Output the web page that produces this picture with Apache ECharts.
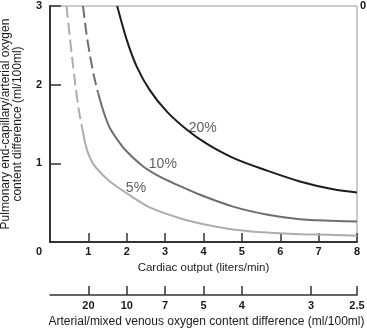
<!DOCTYPE html>
<html><head><meta charset="utf-8">
<script src="https://cdn.jsdelivr.net/npm/echarts@6/dist/echarts.min.js"></script>
<style>html,body{margin:0;padding:0;background:#fff}#c{width:367px;height:330px}</style>
</head><body><div id="c"></div>
<script>
// Secondary axis: arterial/mixed venous O2 content difference, placed at cardiac output positions
const avdLabels = ['20', '10', '7', '5', '4', '3', '2.5'];
const avdPositions = [1, 2, 3, 4, 5, 6.8, 8];

// 20% shunt curve
const s20Q = [1.75, 2.0, 2.26, 2.6, 3.04, 3.56, 4.08, 4.77, 5.64, 6.51, 7.38, 8.0];
const s20D = [3.0, 2.57, 2.23, 1.93, 1.66, 1.43, 1.25, 1.07, 0.91, 0.77, 0.67, 0.63];

// 10% shunt curve (dashed part, then solid part)
const s10DashQ = [0.86, 0.95, 1.05, 1.15, 1.25];
const s10DashD = [3.0, 2.65, 2.35, 2.1, 1.9];
const s10Q = [1.25, 1.4, 1.56, 1.8, 2.0, 2.43, 2.86, 3.3, 3.91, 4.77, 5.64, 6.51, 7.38, 8.0];
const s10D = [1.9, 1.65, 1.45, 1.27, 1.15, 0.96, 0.83, 0.73, 0.60, 0.45, 0.35, 0.29, 0.27, 0.26];

// 5% shunt curve (dashed part, then solid part)
const s5DashQ = [0.43, 0.5, 0.58, 0.66, 0.75, 0.85];
const s5DashD = [3.0, 2.68, 2.33, 2.0, 1.68, 1.42];
const s5Q = [0.85, 0.92, 1.0, 1.13, 1.3, 1.56, 2.0, 2.6, 3.47, 4.17, 4.77, 5.64, 6.51, 7.38, 8.0];
const s5D = [1.42, 1.25, 1.12, 0.99, 0.89, 0.77, 0.62, 0.44, 0.29, 0.21, 0.16, 0.12, 0.10, 0.09, 0.08];

// Curve labels
const labelText = ['20%', '10%', '5%'];
const labelQ = [3.98, 2.94, 2.24];
const labelD = [1.45, 0.99, 0.69];

const zip = (a, b) => a.map((v, i) => [v, b[i]]);
const FONT = 'Liberation Sans, Arial, sans-serif';
const C20 = '#1c1c1c', C10 = '#6e6e6e', C5 = '#adadad';

function line(q, d, color, dashed) {
  return {
    type: 'line', data: zip(q, d), showSymbol: false, smooth: 0.3,
    lineStyle: { color: color, width: 2, type: dashed ? [12, 5] : 'solid' },
    silent: true, z: 3
  };
}

const chart = echarts.init(document.getElementById('c'));
chart.setOption({
  animation: false,
  textStyle: { fontFamily: FONT },
  grid: { left: 50, right: 10, top: 6, bottom: 88, show: true, borderColor: '#999', borderWidth: 1,
          containLabel: false, outerBoundsMode: 'none' },
  xAxis: [{
    type: 'value', min: 0, max: 8, interval: 1, position: 'bottom',
    axisLine: { lineStyle: { color: '#333', width: 2 } },
    axisTick: { inside: true, length: 9, lineStyle: { color: '#333', width: 1.5 } },
    splitLine: { show: false },
    axisLabel: {
      margin: 4, color: '#1a1a1a', fontWeight: 'bold', fontSize: 11, fontFamily: FONT,
      formatter: v => v === 0 ? '{o|0}' : String(v),
      rich: { o: { padding: [0, 22, 0, 0], fontWeight: 'bold', fontSize: 11, color: '#1a1a1a', fontFamily: FONT } }
    },
    name: 'Cardiac output (liters/min)', nameLocation: 'middle', nameGap: 19,
    nameTextStyle: { fontSize: 11.5, color: '#1a1a1a', fontFamily: FONT }
  }, {
    type: 'value', min: 0, max: 8, position: 'bottom', offset: 53,
    axisLine: { onZero: false, lineStyle: { color: '#333', width: 1.5 } },
    axisTick: { inside: true, length: 9, customValues: avdPositions, lineStyle: { color: '#333', width: 1.5 } },
    splitLine: { show: false },
    axisLabel: {
      margin: 5, color: '#1a1a1a', fontWeight: 'bold', fontSize: 11, fontFamily: FONT,
      customValues: avdPositions,
      formatter: v => { const i = avdPositions.indexOf(v); return i >= 0 ? avdLabels[i] : ''; }
    },
    name: 'Arterial/mixed venous oxygen content difference (ml/100ml)', nameLocation: 'middle', nameGap: 21,
    nameTextStyle: { fontSize: 12, color: '#1a1a1a', fontFamily: FONT, padding: [0, 0, 0, 6] }
  }],
  yAxis: [{
    type: 'value', min: 0, max: 3, interval: 1,
    axisLine: { show: true, onZero: false, lineStyle: { color: '#333', width: 2 } },
    axisTick: { show: true, inside: true, length: 11, lineStyle: { color: '#333', width: 1.5 } },
    splitLine: { show: false },
    axisLabel: {
      margin: 8, color: '#1a1a1a', fontWeight: 'bold', fontSize: 11, fontFamily: FONT,
      formatter: v => v === 0 ? '' : String(v)
    },
    name: 'Pulmonary end-capillary/arterial oxygen\ncontent difference (ml/100ml)',
    nameLocation: 'middle', nameGap: 26,
    nameTextStyle: { fontSize: 12, lineHeight: 12, color: '#1a1a1a', fontFamily: FONT }
  }, {
    type: 'value', min: 0, max: 3, interval: 3, inverse: true, position: 'right',
    axisLine: { show: false }, axisTick: { show: false }, splitLine: { show: false },
    axisLabel: {
      margin: 3, color: '#1a1a1a', fontWeight: 'bold', fontSize: 11, fontFamily: FONT,
      formatter: v => v === 0 ? '0' : ''
    }
  }],
  series: [
    line(s20Q, s20D, C20, false),
    line(s10DashQ, s10DashD, C10, true),
    line(s10Q, s10D, C10, false),
    line(s5DashQ, s5DashD, C5, true),
    line(s5Q, s5D, C5, false),
    {
      type: 'scatter', symbolSize: 0, silent: true, z: 4,
      data: labelText.map((t, i) => [labelQ[i], labelD[i], t]),
      label: {
        show: true, position: 'inside', formatter: p => p.value[2],
        fontSize: 14, color: '#333', fontFamily: FONT
      }
    }
  ]
});
</script>
</body></html>
